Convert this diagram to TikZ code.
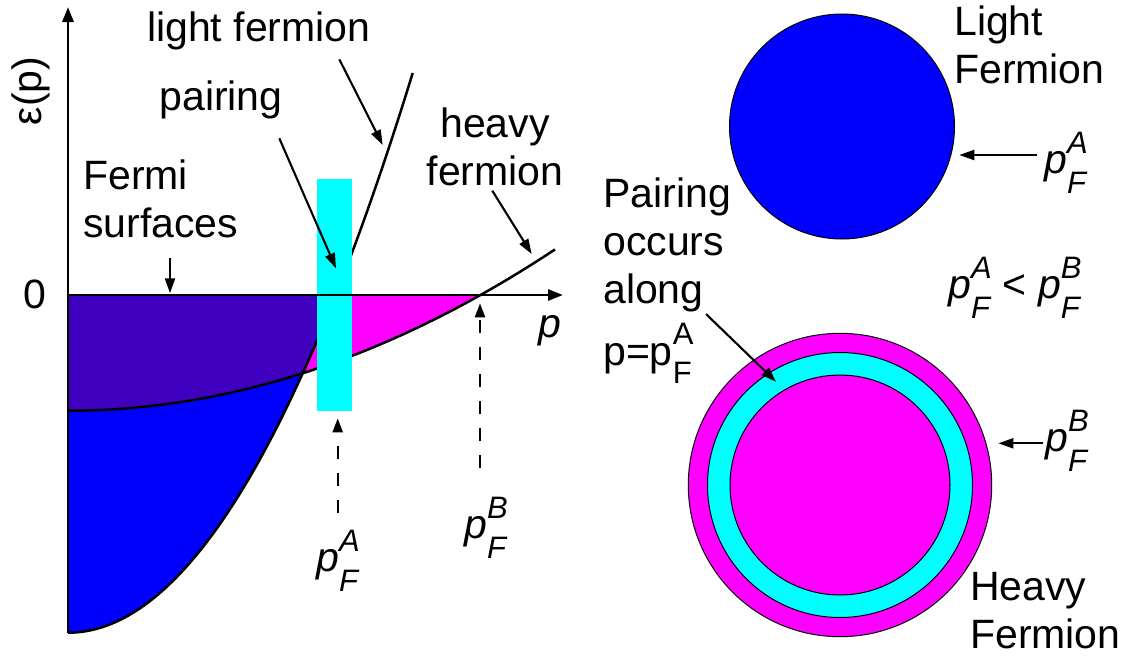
\documentclass[tikz,border=0pt]{standalone}
\usepackage{fontspec}
\setmainfont{Liberation Sans}
\usetikzlibrary{arrows.meta}
\definecolor{indig}{RGB}{64,0,192}
\definecolor{cyn}{RGB}{0,255,255}
\definecolor{mag}{RGB}{255,0,255}
\definecolor{blu}{RGB}{0,0,255}
\newcommand\subsz{\fontsize{31}{31}\selectfont}
\newcommand\pFit[1]{\textit{p}\rlap{\raisebox{20pt}{\subsz\textit{#1}}}\raisebox{-20pt}{\subsz\textit{F}}}
\newcommand\pFup[1]{p\rlap{\raisebox{21pt}{\subsz #1}}\raisebox{-18pt}{\subsz F}}
\begin{document}
\begin{tikzpicture}[x=1pt,y=-1pt,
  lbl/.style={inner sep=0pt, font=\fontsize{41}{48}\selectfont, align=left, anchor=base west},
  ann/.style={line width=2.1pt, -{Triangle[length=15pt,width=10pt]}},
  curve/.style={line width=2.5pt},
  axis/.style={line width=2.7pt, -{Triangle[length=15pt,width=11pt]}},
  dsh/.style={line width=2.2pt, dash pattern=on 13pt off 14pt, -{Triangle[length=14pt,width=10pt]}},
  ring/.style={circle, draw=black, line width=1pt, inner sep=0pt}]
\useasboundingbox (0,0) rectangle (1137,659);
% Fermi seas
\fill[blu] (68,295) -- (68,632.7) -- plot[domain=0:267.5,samples=80] ({68+\x},{632.7-47.1*(\x/100)*(\x/100)}) -- cycle;
\fill[mag] (68,295) -- (68,410.7) -- plot[domain=0:413.7,samples=80] ({68+\x},{410.7-6.8*(\x/100)*(\x/100)}) -- cycle;
\begin{scope}
  \clip (68,295) -- (68,632.7) -- plot[domain=0:267.5,samples=80] ({68+\x},{632.7-47.1*(\x/100)*(\x/100)}) -- cycle;
  \fill[indig] (68,295) -- (68,410.7) -- plot[domain=0:413.7,samples=80] ({68+\x},{410.7-6.8*(\x/100)*(\x/100)}) -- cycle;
\end{scope}
% dispersion curves
\draw[curve] plot[domain=0:344.7,samples=100] ({68+\x},{632.7-47.1*(\x/100)*(\x/100)});
\draw[curve] plot[domain=0:487,samples=100] ({68+\x},{410.7-6.8*(\x/100)*(\x/100)});
% pairing bar
\node[fill=cyn, minimum width=35pt, minimum height=231.7pt, inner sep=0pt, outer sep=0pt, anchor=north west] (bar) at (316.7,179) {};
% axes
\coordinate (ybot) at (68,632.7);
\coordinate (ytip) at (68,7);
\coordinate (O) at (68,295);
\coordinate (xtip) at (563,295);
\draw[axis] (ybot) -- (ytip);
\draw[axis] (O) -- (xtip);
% left labels
\node[lbl, anchor=base] (zero) at (35,308) {0};
\node[lbl, anchor=center, rotate=90] (eps) at (31,91) {ε(p)};
\node[lbl] (lf) at (147,41.7) {light fermion};
\node[lbl] (pair) at (159.3,110) {pairing};
\node[lbl, align=center, anchor=base] (hf) at (495,185) {heavy\\fermion};
\node[lbl] (fs) at (83,237) {Fermi\\surfaces};
\node[lbl] (pax) at (538,337) {\textit{p}};
\node[lbl] (pFA) at (316,571.7) {\pFit{A}};
\node[lbl] (pFB) at (464,538.3) {\pFit{B}};
% annotation arrows (left)
\coordinate (lfS) at (339.3,59.3);  \coordinate (lfE) at (382.7,145);
\coordinate (prS) at (279.3,138.3); \coordinate (prE) at (336,268.3);
\coordinate (hfS) at (492.3,190.7); \coordinate (hfE) at (531.7,254);
\coordinate (fsS) at (170,258.3);   \coordinate (fsE) at (170,293.3);
\draw[ann] (lfS) -- (lfE);
\draw[ann] (prS) -- (prE);
\draw[ann] (hfS) -- (hfE);
\draw[ann] (fsS) -- (fsE);
\coordinate (dAS) at (337.7,512.7); \coordinate (dAE) at (337.7,418.3);
\coordinate (dBS) at (480,468.3);   \coordinate (dBE) at (480,303.3);
\draw[dsh] (dAS) -- (dAE);
\draw[dsh] (dBS) -- (dBE);
% right: Fermi spheres
\node[ring, fill=blu, minimum size=225pt] (lsea) at (842,126.5) {};
\node[ring, fill=mag, minimum size=303.4pt] (hout) at (840,485) {};
\node[ring, fill=cyn, minimum size=265pt] (hmid) at (840,485) {};
\node[ring, fill=mag, minimum size=220pt] (hin) at (840,485) {};
% right labels
\node[lbl] (lF) at (954,83.3) {Light\\Fermion};
\node[lbl] (rA) at (1044,173.3) {\pFit{A}};
\node[lbl] (ineq) at (948,298.3) {\pFit{A} < \pFit{B}};
\node[lbl] (rB) at (1045,451.7) {\pFit{B}};
\node[lbl] (pocc) at (603,365) {Pairing\\occurs\\along\\[10pt]p=\pFup{A}};
\node[lbl] (hF) at (970,648.3) {Heavy\\Fermion};
% right arrows
\coordinate (raS) at (1036.7,155); \coordinate (raE) at (959.3,155);
\coordinate (rbS) at (1043.3,443.3); \coordinate (rbE) at (998.3,443.3);
\coordinate (poS) at (706,314); \coordinate (poE) at (776,381.7);
\draw[ann] (raS) -- (raE);
\draw[ann] (rbS) -- (rbE);
\draw[ann] (poS) -- (poE);
\end{tikzpicture}
\end{document}
